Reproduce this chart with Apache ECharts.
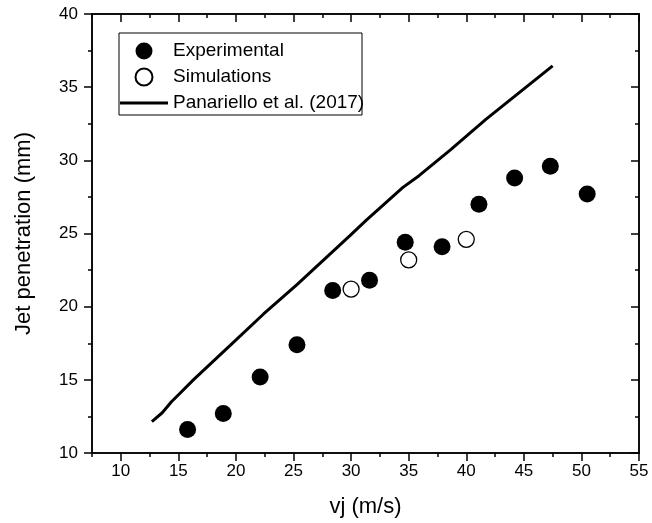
<!DOCTYPE html>
<html lang="en">
<head>
    <meta charset="UTF-8">
    <title>Jet penetration</title>
    <script src="https://cdn.jsdelivr.net/npm/echarts@6/dist/echarts.min.js"></script>
</head>
<body style="margin:0;background:#fff;">
    <div id="main" style="width: 652px;height:523px;"></div>
    <script type="text/javascript">
        // experimental points
        var expX = [15.8, 18.9, 22.1, 25.3, 28.4, 31.6, 34.7, 37.9, 41.1, 44.2, 47.3, 50.5];
        var expY = [11.6, 12.7, 15.2, 17.4, 21.1, 21.8, 24.4, 24.1, 27.0, 28.8, 29.6, 27.7];
        // simulations
        var simX = [30, 35, 40];
        var simY = [21.2, 23.2, 24.6];
        // Panariello et al. (2017)
        var modelX = [12.7, 13.6, 14.4, 15.1, 16.3, 19.5, 22.4, 25.3, 29.9, 31.3, 34.5, 35.9, 38.6, 41.7, 47.5];
        var modelY = [12.15, 12.75, 13.5, 14.05, 15.0, 17.35, 19.5, 21.5, 24.85, 25.9, 28.15, 28.95, 30.7, 32.8, 36.45];
        // ticks
        var xMajor = [10, 15, 20, 25, 30, 35, 40, 45, 50, 55];
        var xMinor = [7.5, 12.5, 17.5, 22.5, 27.5, 32.5, 37.5, 42.5, 47.5, 52.5];
        var yMajor = [10, 15, 20, 25, 30, 35, 40];
        var yMinor = [12.5, 17.5, 22.5, 27.5, 32.5, 37.5];

        var font = 'Liberation Sans';
        var zip = (a, b) => a.map((v, i) => [v, b[i]]);

        function axis(dim, pos, ticks, len, inside, labels, extra) {
            var a = {
                type: 'value',
                position: pos,
                min: dim === 'x' ? 7.5 : 10,
                max: dim === 'x' ? 55 : 40,
                axisLine: {show: true, onZero: false, lineStyle: {color: '#000', width: 1.5}},
                axisTick: {show: true, inside: inside, length: len, customValues: ticks,
                    lineStyle: {color: '#000', width: 1.5}},
                axisLabel: labels ? {show: true, customValues: ticks, color: '#000',
                    fontSize: 17, fontFamily: font, margin: dim === 'x' ? 10 : 14} : {show: false},
                splitLine: {show: false}
            };
            return Object.assign(a, extra || {});
        }

        var nameStyle = {color: '#000', fontSize: 22, fontFamily: font};

        var myChart = echarts.init(document.getElementById('main'));
        var option = {
            backgroundColor: '#fff',
            animation: false,
            grid: {left: 92, right: 13, top: 14, bottom: 70},
            xAxis: [
                axis('x', 'bottom', xMajor, 8, false, true, {
                    name: 'vj (m/s)', nameLocation: 'middle', nameGap: 43, nameTextStyle: nameStyle
                }),
                axis('x', 'bottom', xMinor, 4, false, false),
                axis('x', 'top', xMajor, 8, true, false),
                axis('x', 'top', xMinor, 4, true, false)
            ],
            yAxis: [
                axis('y', 'left', yMajor, 8, false, true, {
                    name: 'Jet penetration (mm)', nameLocation: 'middle', nameGap: 57, nameTextStyle: nameStyle
                }),
                axis('y', 'left', yMinor, 4, false, false),
                axis('y', 'right', yMajor, 8, true, false),
                axis('y', 'right', yMinor, 4, true, false)
            ],
            legend: {
                orient: 'vertical',
                left: 120,
                top: 41.5,
                padding: 0,
                itemWidth: 48,
                itemHeight: 17,
                itemGap: 7,
                textStyle: {color: '#000', fontSize: 19, fontFamily: font},
                data: [
                    'Experimental',
                    'Simulations',
                    {name: 'Panariello et al. (2017)', icon: 'path://M0,0 L48,0 L48,3 L0,3 Z'}
                ]
            },
            graphic: [{
                type: 'rect',
                shape: {x: 119, y: 33, width: 243, height: 82},
                style: {fill: 'none', stroke: '#000', lineWidth: 1}
            }],
            series: [
                {
                    name: 'Panariello et al. (2017)',
                    type: 'line',
                    data: zip(modelX, modelY),
                    symbol: 'none',
                    lineStyle: {color: '#000', width: 3},
                    itemStyle: {color: '#000'}
                },
                {
                    name: 'Experimental',
                    type: 'scatter',
                    data: zip(expX, expY),
                    symbolSize: 17,
                    itemStyle: {color: '#000', opacity: 1}
                },
                {
                    name: 'Simulations',
                    type: 'scatter',
                    data: zip(simX, simY),
                    symbolSize: 16,
                    itemStyle: {color: '#fff', borderColor: '#000', borderWidth: 1.3, opacity: 1}
                }
            ]
        };
        myChart.setOption(option);
    </script>
</body>
</html>
